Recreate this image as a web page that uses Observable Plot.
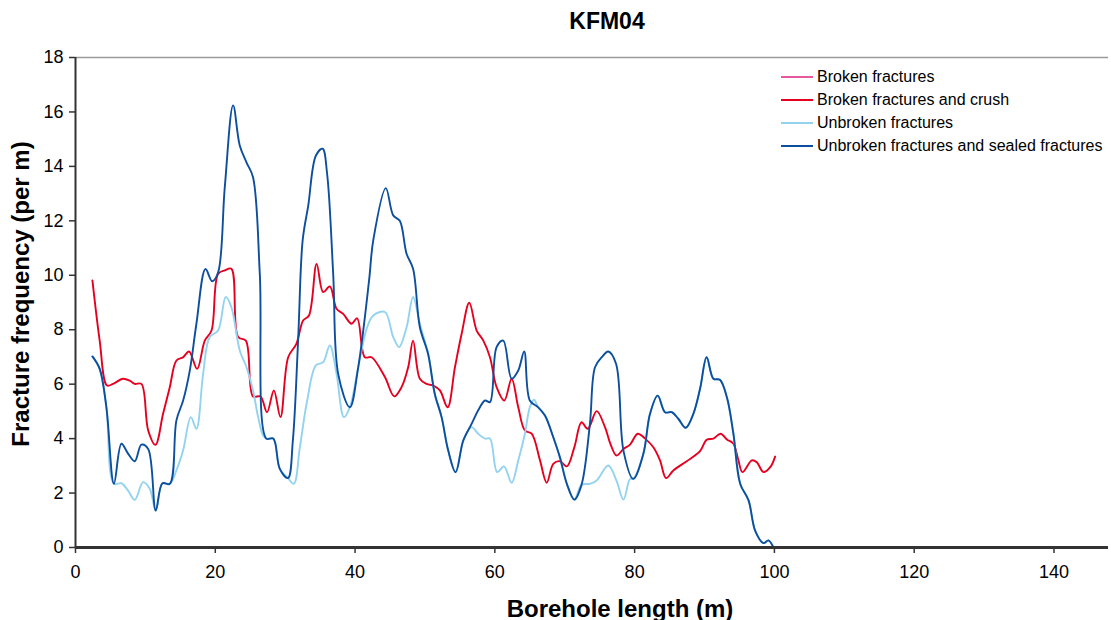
<!DOCTYPE html>
<html>
<head>
<meta charset="utf-8">
<script src="https://cdn.jsdelivr.net/npm/d3@7"></script>
<script src="https://cdn.jsdelivr.net/npm/@observablehq/plot@0.6"></script>
<style>
  html, body { margin: 0; padding: 0; background: #fff; overflow: hidden; }
  #wrap { position: relative; width: 1111px; height: 620px; font-family: "Liberation Sans", Arial, sans-serif; color: #000; }
  #chart { position: absolute; left: 0; top: 0; }
  .title { position: absolute; left: 457px; width: 300px; top: 10px; text-align: center; font-size: 23px; line-height: 23px; font-weight: bold; }
  .xlabel { position: absolute; left: 420px; width: 400px; top: 597px; text-align: center; font-size: 24px; line-height: 24px; font-weight: bold; white-space: nowrap; }
  .ylabel { position: absolute; left: -179px; top: 282px; width: 400px; height: 24px; line-height: 24px; text-align: center; font-size: 24px; font-weight: bold; transform: rotate(-90deg); white-space: nowrap; }
  .legend { position: absolute; left: 781px; top: 66px; font-size: 16px; }
  .legend .row { display: flex; align-items: center; height: 22.8px; }
  .legend svg { width: 32px; height: 4px; margin-right: 4px; }
</style>
</head>
<body>
<div id="wrap">
  <div id="chart"></div>
  <div class="title">KFM04</div>
  <div class="xlabel">Borehole length (m)</div>
  <div class="ylabel">Fracture frequency (per m)</div>
  <div class="legend" id="legend"></div>
</div>
<script>
// ---- Data ----
const seriesNames = ["Broken fractures", "Broken fractures and crush", "Unbroken fractures", "Unbroken fractures and sealed fractures"];
const seriesColors = ["#e8589e", "#e60020", "#93d3ef", "#0d4f9f"];

const xTicks = [0, 20, 40, 60, 80, 100, 120, 140];
const yTicks = [0, 2, 4, 6, 8, 10, 12, 14, 16, 18];

// Broken fractures and crush (red)
const crushLength = [2.42,3.46,4.5,5.37,6.8,7.76,8.48,9.43,10.4,11.44,12.53,13.49,14.44,15.39,16.25,17.4,18.5,19.46,20.4,21.36,22.3,23.27,24.37,25.4,26.47,27.4,28.38,29.33,30.43,31.6,32.57,33.4,34.5,35.43,36.39,37.35,38.3,39.5,40.3,41.4,42.36,44.27,45.6,46.65,47.6,48.3,49.27,50.24,51.2,52.14,53.24,54.29,55.25,56.34,57.4,58.35,59.3,60.25,61.35,62.4,63.35,64.3,65.27,66.46,67.42,68.36,69.3,70.3,71.37,72.4,73.3,74.57,75.76,76.57,77.4,78.4,79.34,80.44,81.5,82.68,83.63,84.5,85.54,87.45,89.36,90.3,91.27,92.3,93.2,94.13,94.85,95.42,96.77,97.48,98.43,99.4,100.1];
const crushFreq = [9.81,7.6,5.95,6.01,6.2,6.13,6.01,6.01,4.3,3.77,4.91,5.89,6.87,6.99,7.2,6.56,7.6,7.97,10.05,10.18,10.24,7.73,7.6,5.55,5.55,4.97,5.77,4.79,6.99,7.48,8.34,8.52,10.42,9.38,9.59,8.77,8.58,8.22,8.42,6.99,6.99,6.26,5.55,5.89,6.62,7.6,6.2,6.01,5.95,5.77,5.15,6.62,7.85,8.99,7.97,7.6,6.99,5.89,5.4,6.2,5.15,4.3,4.18,3.2,2.38,3.07,3.17,2.98,3.68,4.6,4.36,5.01,4.42,3.78,3.38,3.62,3.78,4.18,4.0,3.68,3.2,2.55,2.83,3.17,3.54,3.96,4.0,4.18,3.97,3.81,3.2,2.77,3.2,3.13,2.77,2.95,3.34];

// Unbroken fractures (light blue)
const unbrokenLength = [2.42,3.46,4.42,5.5,6.57,7.52,8.48,9.67,10.62,11.48,12.44,13.5,14.44,15.39,16.5,17.3,18.26,19.2,20.4,21.5,22.3,23.5,24.47,25.4,26.13,26.84,27.3,28.3,29.23,30.4,31.24,32.1,33.15,34.39,35.43,36.39,37.35,38.4,39.25,40.45,41.65,42.6,44.27,45.46,46.3,47.37,48.3,49.27,50.46,51.4,52.38,53.33,54.38,55.48,56.67,57.6,58.6,59.3,60.34,61.3,62.4,63.35,64.3,65.0,65.6,66.2,67.17,68.36,69.3,70.3,71.37,72.4,73.6,74.57,76.23,77.4,78.4,79.34,79.8,81.25,82.2,83.3,84.35,85.3,86.25,87.3,88.4,89.36,90.3,91.27,92.2,93.2,94.13,95.1,96.3,97.24,98.43,99.14,99.86];
const unbrokenFreq = [7.02,6.56,5.15,2.34,2.36,2.09,1.75,2.4,2.16,1.36,2.36,2.34,2.83,3.56,4.79,4.36,6.38,7.73,7.97,9.2,8.83,7.24,6.62,5.77,4.79,4.11,4.0,4.0,2.89,2.55,2.34,3.68,5.4,6.69,6.81,7.42,6.38,4.79,5.15,6.62,8.03,8.52,8.65,7.73,7.36,8.09,9.2,8.22,7.1,5.65,4.79,3.56,2.77,3.93,4.42,4.18,4.0,4.0,2.77,2.98,2.38,3.2,4.18,5.15,5.43,5.15,4.85,4.05,3.32,2.34,1.76,2.3,2.34,2.46,3.01,2.46,1.76,2.52,2.52,3.44,4.91,5.58,4.97,4.97,4.73,4.4,4.91,5.83,6.99,6.2,6.16,5.52,4.18,2.34,1.73,0.62,0.16,0.26,0];

// Unbroken fractures and sealed fractures (dark blue)
const sealedLength = [2.42,3.46,4.42,5.5,6.57,7.52,8.48,9.43,10.4,11.48,12.44,13.5,14.44,15.4,16.35,17.3,18.6,19.55,20.4,21.36,22.55,23.5,24.46,25.4,26.37,27.3,28.3,29.23,30.4,31.1,31.85,32.5,33.3,34.4,35.35,36.0,36.87,37.58,39.25,40.45,42.0,42.6,44.4,45.46,46.4,47.37,48.3,49.27,50.46,51.4,52.38,53.33,54.38,55.48,56.67,57.6,58.6,59.3,60.25,61.2,62.4,63.35,64.2,65.0,66.2,67.17,68.36,69.3,70.3,71.37,72.4,73.6,74.33,75.3,76.23,77.34,78.4,79.8,81.25,82.2,83.3,84.35,85.3,86.25,87.3,88.4,89.36,90.3,91.27,92.2,93.2,94.13,95.1,96.3,97.24,98.43,99.14,99.86];
const sealedFreq = [7.02,6.56,5.15,2.34,3.81,3.45,3.17,3.78,3.62,1.36,2.36,2.34,4.67,5.4,6.5,8.22,10.23,9.78,10.1,13.24,16.24,14.77,14.15,13.6,10.05,4.0,4.0,2.89,2.55,3.93,7.6,11.28,12.56,14.4,14.65,13.73,10.05,6.38,5.15,6.62,9.8,11.28,13.2,12.2,12.0,10.79,10.24,8.09,7.1,5.65,4.79,3.56,2.77,3.93,4.54,5.03,5.4,5.34,7.36,7.6,6.2,6.5,7.2,5.4,5.15,4.85,4.05,3.32,2.34,1.76,2.3,4.54,6.62,6.99,7.2,6.75,3.56,2.52,3.44,4.91,5.58,4.97,4.97,4.73,4.4,4.91,5.83,6.99,6.2,6.16,5.52,4.18,2.34,1.73,0.62,0.16,0.26,0];

// ---- Build tables ----
function rows(xs, ys, name) { return xs.map((x, i) => ({x, y: ys[i], series: name})); }
const crushRows = rows(crushLength, crushFreq, seriesNames[1]);
const unbrokenRows = rows(unbrokenLength, unbrokenFreq, seriesNames[2]);
const sealedRows = rows(sealedLength, sealedFreq, seriesNames[3]);

const lineOpts = (color) => ({x: "x", y: "y", stroke: color, strokeWidth: 1.9, curve: "catmull-rom"});

const chart = Plot.plot({
  width: 1111,
  height: 620,
  marginTop: 57,
  marginBottom: 73,
  marginLeft: 75,
  marginRight: 3,
  style: {fontFamily: "'Liberation Sans', Arial, sans-serif", fontSize: "18px", color: "#000", background: "#fff", overflow: "visible"},
  x: {domain: [0, 147.8], label: null},
  y: {domain: [0, 18], label: null},
  marks: [
    Plot.ruleY([18], {stroke: "#9a9a9a", strokeWidth: 1.5}),
    Plot.axisX(xTicks, {anchor: "bottom", tickSize: 6, tickPadding: 12, fontSize: 18, stroke: "#333", strokeWidth: 1.5, label: null}),
    Plot.axisY(yTicks, {anchor: "left", tickSize: 6, tickPadding: 6, fontSize: 18, stroke: "#333", strokeWidth: 1.5, label: null}),
    Plot.line(crushRows, lineOpts(seriesColors[1])),
    Plot.line(unbrokenRows, lineOpts(seriesColors[2])),
    Plot.line(sealedRows, lineOpts(seriesColors[3])),
    Plot.ruleX([0], {stroke: "#333", strokeWidth: 2}),
    Plot.ruleY([0], {stroke: "#333", strokeWidth: 3})
  ]
});
document.getElementById("chart").appendChild(chart);

// ---- Legend ----
const legend = document.getElementById("legend");
seriesNames.forEach((name, i) => {
  const row = document.createElement("div");
  row.className = "row";
  row.innerHTML = `<svg viewBox="0 0 32 4"><line x1="0" y1="2" x2="32" y2="2" stroke="${seriesColors[i]}" stroke-width="2"/></svg><span>${name}</span>`;
  legend.appendChild(row);
});
</script>
</body>
</html>
